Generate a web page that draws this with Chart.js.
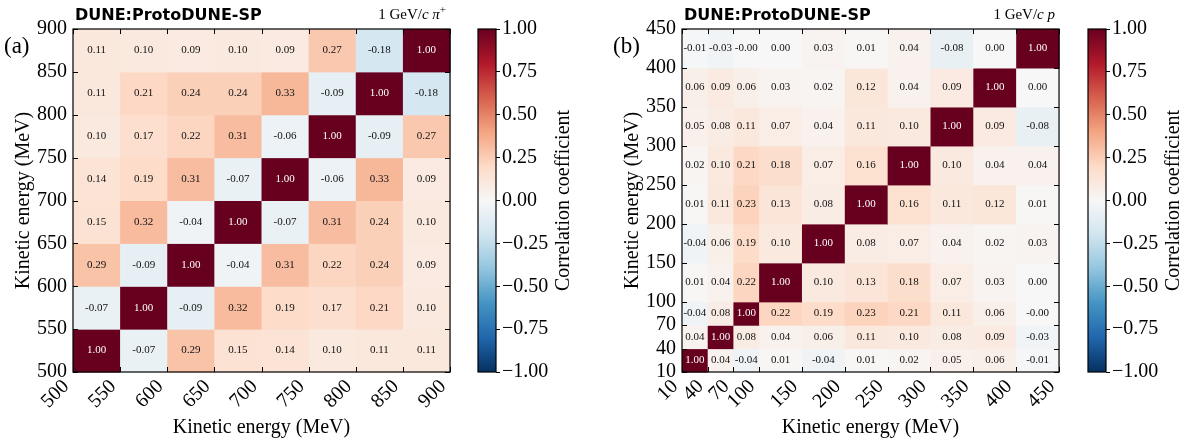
<!DOCTYPE html>
<html>
<head>
<meta charset="utf-8">
<script src="https://cdn.jsdelivr.net/npm/chart.js@4/dist/chart.umd.min.js"></script>
<style>
  body { margin: 0; background: #fff; width: 1190px; height: 441px; position: relative; overflow: hidden; }
  canvas { position: absolute; top: 0; }
</style>
</head>
<body>
<canvas id="heatA" width="470" height="441" style="left:0px"></canvas>
<canvas id="barA" width="120" height="441" style="left:470px"></canvas>
<canvas id="heatB" width="470" height="441" style="left:609px"></canvas>
<canvas id="barB" width="110" height="441" style="left:1080px"></canvas>
<script>
// bin edges (MeV) - also used as tick values
const edgesPion = [500, 550, 600, 650, 700, 750, 800, 850, 900];
const edgesProton = [10, 40, 70, 100, 150, 200, 250, 300, 350, 400, 450];

// correlation matrices, rows from the lowest energy bin upwards
const corrPion = [
  [1.00, -0.07, 0.29, 0.15, 0.14, 0.10, 0.11, 0.11],
  [-0.07, 1.00, -0.09, 0.32, 0.19, 0.17, 0.21, 0.10],
  [0.29, -0.09, 1.00, -0.04, 0.31, 0.22, 0.24, 0.09],
  [0.15, 0.32, -0.04, 1.00, -0.07, 0.31, 0.24, 0.10],
  [0.14, 0.19, 0.31, -0.07, 1.00, -0.06, 0.33, 0.09],
  [0.10, 0.17, 0.22, 0.31, -0.06, 1.00, -0.09, 0.27],
  [0.11, 0.21, 0.24, 0.24, 0.33, -0.09, 1.00, -0.18],
  [0.11, 0.10, 0.09, 0.10, 0.09, 0.27, -0.18, 1.00]
];
// -0.001 stands for the cells printed as "-0.00"
const corrProton = [
  [1.00, 0.04, -0.04, 0.01, -0.04, 0.01, 0.02, 0.05, 0.06, -0.01],
  [0.04, 1.00, 0.08, 0.04, 0.06, 0.11, 0.10, 0.08, 0.09, -0.03],
  [-0.04, 0.08, 1.00, 0.22, 0.19, 0.23, 0.21, 0.11, 0.06, -0.001],
  [0.01, 0.04, 0.22, 1.00, 0.10, 0.13, 0.18, 0.07, 0.03, 0.00],
  [-0.04, 0.06, 0.19, 0.10, 1.00, 0.08, 0.07, 0.04, 0.02, 0.03],
  [0.01, 0.11, 0.23, 0.13, 0.08, 1.00, 0.16, 0.11, 0.12, 0.01],
  [0.02, 0.10, 0.21, 0.18, 0.07, 0.16, 1.00, 0.10, 0.04, 0.04],
  [0.05, 0.08, 0.11, 0.07, 0.04, 0.11, 0.10, 1.00, 0.09, -0.08],
  [0.06, 0.09, 0.06, 0.03, 0.02, 0.12, 0.04, 0.09, 1.00, 0.00],
  [-0.01, -0.03, -0.001, 0.00, 0.03, 0.01, 0.04, -0.08, 0.00, 1.00]
];

const colorbarTicks = [-1, -0.75, -0.5, -0.25, 0, 0.25, 0.5, 0.75, 1];

// RdBu_r colour stops, from -1 to +1
const rdbu = ['#053061', '#2166ac', '#4393c3', '#92c5de', '#d1e5f0', '#f7f7f7',
              '#fddbc7', '#f4a582', '#d6604d', '#b2182b', '#67001f'];

const SERIF = '"Liberation Serif", "Times New Roman", serif';
Chart.defaults.color = '#000';
Chart.defaults.font.family = SERIF;

function hexToRgb(h) {
  return [parseInt(h.slice(1, 3), 16), parseInt(h.slice(3, 5), 16), parseInt(h.slice(5, 7), 16)];
}
function cmap(v) {
  let t = (Math.max(-1, Math.min(1, v)) + 1) / 2 * (rdbu.length - 1);
  let i = Math.min(Math.floor(t), rdbu.length - 2);
  let f = t - i;
  let a = hexToRgb(rdbu[i]), b = hexToRgb(rdbu[i + 1]);
  let c = a.map((x, k) => Math.round(x + (b[k] - x) * f));
  return `rgb(${c[0]},${c[1]},${c[2]})`;
}

// draws the cells, numbers, frame, inward ticks and header texts
const heatPlugin = {
  id: 'heat',
  beforeDatasetsDraw(chart) {
    const ctx = chart.ctx, xs = chart.scales.x, ys = chart.scales.y;
    ctx.save();
    chart.data.datasets[0].data.forEach(c => {
      const l = xs.getPixelForValue(c.x0), r = xs.getPixelForValue(c.x1);
      const t = ys.getPixelForValue(c.y1), b = ys.getPixelForValue(c.y0);
      ctx.fillStyle = cmap(c.v);
      ctx.fillRect(l, t, r - l + 0.5, b - t + 0.5);
    });
    ctx.font = '11px ' + SERIF;
    ctx.textAlign = 'center';
    ctx.textBaseline = 'middle';
    chart.data.datasets[0].data.forEach(c => {
      ctx.fillStyle = Math.abs(c.v) > 0.5 ? '#fff' : '#111';
      ctx.fillText(c.v.toFixed(2), xs.getPixelForValue(c.x), ys.getPixelForValue(c.y));
    });
    ctx.restore();
  },
  afterDatasetsDraw(chart, args, opts) {
    const ctx = chart.ctx, a = chart.chartArea, xs = chart.scales.x, ys = chart.scales.y;
    ctx.save();
    ctx.strokeStyle = '#000';
    ctx.lineWidth = 1;
    ctx.beginPath();
    xs.ticks.forEach(tk => {
      const x = Math.round(xs.getPixelForValue(tk.value)) + 0.5;
      ctx.moveTo(x, a.bottom); ctx.lineTo(x, a.bottom - 5);
      ctx.moveTo(x, a.top); ctx.lineTo(x, a.top + 5);
    });
    ys.ticks.forEach(tk => {
      const y = Math.round(ys.getPixelForValue(tk.value)) + 0.5;
      ctx.moveTo(a.left, y); ctx.lineTo(a.left + 5, y);
      ctx.moveTo(a.right, y); ctx.lineTo(a.right - 5, y);
    });
    ctx.stroke();
    ctx.lineWidth = 1.2;
    ctx.strokeRect(a.left, a.top, a.right - a.left, a.bottom - a.top);

    ctx.fillStyle = '#000';
    ctx.textBaseline = 'alphabetic';
    ctx.textAlign = 'left';
    ctx.font = 'bold 16px "DejaVu Sans", sans-serif';
    ctx.fillText('DUNE:ProtoDUNE-SP', a.left + 2, 20);
    ctx.font = '23px ' + SERIF;
    ctx.fillText(opts.tag, 4, 53);

    const parts = [
      {t: '1 GeV/', f: '15px ' + SERIF, dy: 0},
      {t: 'c', f: 'italic 15px ' + SERIF, dy: 0},
      {t: ' ' + opts.particle, f: 'italic 15px ' + SERIF, dy: 0},
      {t: opts.charge, f: '11px ' + SERIF, dy: -6}
    ];
    let w = 0;
    parts.forEach(p => { ctx.font = p.f; w += ctx.measureText(p.t).width; });
    let x = a.right - 4 - w;
    parts.forEach(p => { ctx.font = p.f; ctx.fillText(p.t, x, 19 + p.dy); x += ctx.measureText(p.t).width; });
    ctx.restore();
  }
};

// colour bar gradient, frame and its rotated label
const barPlugin = {
  id: 'cbar',
  beforeDatasetsDraw(chart) {
    const ctx = chart.ctx, a = chart.chartArea, ys = chart.scales.y;
    const g = ctx.createLinearGradient(0, ys.getPixelForValue(-1), 0, ys.getPixelForValue(1));
    rdbu.forEach((c, i) => g.addColorStop(i / (rdbu.length - 1), c));
    ctx.save();
    ctx.fillStyle = g;
    ctx.fillRect(a.left, a.top, a.right - a.left, a.bottom - a.top);
    ctx.strokeStyle = '#000';
    ctx.lineWidth = 1.2;
    ctx.strokeRect(a.left, a.top, a.right - a.left, a.bottom - a.top);
    ctx.translate(a.right + 68, (a.top + a.bottom) / 2);
    ctx.rotate(-Math.PI / 2);
    ctx.font = '20px ' + SERIF;
    ctx.fillStyle = '#000';
    ctx.textAlign = 'center';
    ctx.textBaseline = 'middle';
    ctx.fillText('Correlation coefficient', 0, 0);
    ctx.restore();
  }
};

function makeHeat(id, edgesX, edgesY, values, tag, particle, charge) {
  const cells = [];
  for (let j = 0; j < values.length; j++) {
    for (let i = 0; i < values[j].length; i++) {
      cells.push({
        x: (edgesX[i] + edgesX[i + 1]) / 2, y: (edgesY[j] + edgesY[j + 1]) / 2,
        x0: edgesX[i], x1: edgesX[i + 1], y0: edgesY[j], y1: edgesY[j + 1],
        v: values[j][i]
      });
    }
  }
  const tickFont = {family: SERIF, size: 20};
  return new Chart(document.getElementById(id), {
    type: 'scatter',
    data: {datasets: [{data: cells, pointRadius: 0, pointHoverRadius: 0}]},
    options: {
      responsive: false,
      animation: false,
      events: [],
      layout: {padding: {top: 29, right: 15, left: 0, bottom: 0}},
      plugins: {
        legend: {display: false},
        tooltip: {enabled: false},
        heat: {tag: tag, particle: particle, charge: charge}
      },
      scales: {
        x: {
          type: 'linear', min: edgesX[0], max: edgesX[edgesX.length - 1],
          afterBuildTicks: s => { s.ticks = edgesX.map(v => ({value: v})); },
          afterFit: s => { s.height = 69; },
          grid: {display: false, drawTicks: false}, border: {display: false},
          ticks: {autoSkip: false, minRotation: 45, maxRotation: 45, padding: 3, labelOffset: -7,
                  font: tickFont, callback: v => String(v)},
          title: {display: true, text: 'Kinetic energy (MeV)', font: tickFont, padding: {top: 0, bottom: 1}}
        },
        y: {
          type: 'linear', min: edgesY[0], max: edgesY[edgesY.length - 1],
          afterBuildTicks: s => { s.ticks = edgesY.map(v => ({value: v})); },
          afterFit: s => { s.width = 73; },
          grid: {display: false, drawTicks: false}, border: {display: false},
          ticks: {autoSkip: false, padding: 6, font: tickFont, callback: v => String(v)},
          title: {display: true, text: 'Kinetic energy (MeV)', font: tickFont, padding: {top: 12, bottom: 0}}
        }
      }
    },
    plugins: [heatPlugin]
  });
}

function makeBar(id, axisWidth) {
  return new Chart(document.getElementById(id), {
    type: 'scatter',
    data: {datasets: [{data: []}]},
    options: {
      responsive: false,
      animation: false,
      events: [],
      layout: {padding: {top: 29, bottom: 69, left: 8, right: 0}},
      plugins: {legend: {display: false}, tooltip: {enabled: false}},
      scales: {
        x: {display: false, min: 0, max: 1},
        y: {
          position: 'right', min: -1, max: 1,
          afterBuildTicks: s => { s.ticks = colorbarTicks.map(v => ({value: v})); },
          afterFit: s => { s.width = axisWidth; },
          grid: {drawOnChartArea: false, drawTicks: true, tickLength: 4, color: '#000', tickColor: '#000'},
          border: {display: false},
          ticks: {padding: 2, font: {family: SERIF, size: 20},
                  callback: v => v.toFixed(2).replace('-', '\u2212')}
        }
      }
    },
    plugins: [barPlugin]
  });
}

makeHeat('heatA', edgesPion, edgesPion, corrPion, '(a)', '\u03c0', '+');
makeBar('barA', 94);
makeHeat('heatB', edgesProton, edgesProton, corrProton, '(b)', 'p', '');
makeBar('barB', 84);
</script>
</body>
</html>
